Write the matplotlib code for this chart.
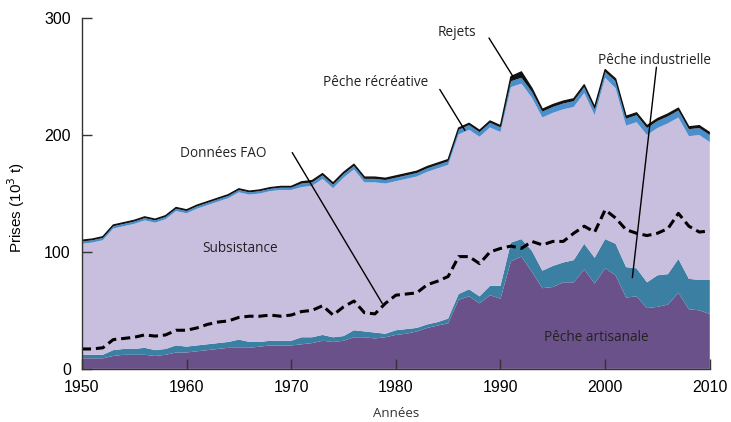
import numpy as np
import matplotlib.pyplot as plt

years = np.arange(1950, 2011)

# valeurs (10^3 t)
artisanale = [9, 9, 9, 11, 12, 12, 12, 11, 12, 14,
              14, 15, 16, 17, 18, 18, 18, 19, 20, 20,
              20, 21, 22, 24, 23, 24, 27, 27, 26, 27,
              29, 30, 32, 35, 37, 39, 59, 62, 56, 63,
              60, 92, 96, 83, 69, 70, 74, 74, 85, 73,
              86, 80, 61, 62, 52, 53, 55, 65, 51, 50,
              47]
artis_indus = [12, 12, 12, 16, 17, 17, 18, 16, 17, 20,
               19, 20, 21, 22, 23, 25, 23, 23, 24, 24,
               24, 27, 27, 29, 27, 28, 33, 32, 31, 30,
               33, 34, 35, 38, 40, 43, 64, 68, 62, 71,
               71, 108, 111, 101, 84, 88, 91, 93, 107, 95,
               111, 107, 87, 86, 74, 80, 81, 94, 77, 76,
               76]
total = [110, 111, 113, 123, 125, 127, 130, 128, 131, 138,
         136, 140, 143, 146, 149, 154, 152, 153, 155, 156,
         156, 160, 161, 167, 159, 168, 175, 164, 164, 163,
         165, 167, 169, 173, 176, 179, 206, 210, 204, 212,
         208, 250, 254, 240, 222, 226, 229, 231, 243, 224,
         256, 248, 216, 219, 208, 214, 218, 223, 207, 208,
         202]
recreative = [2]*21 + [3]*15 + [4]*5 + [5]*10 + [6]*10
rejets = [1]*21 + [1.5]*20 + [4, 5, 3] + [2]*17
fao = [17, 17, 18, 25, 26, 27, 29, 28, 29, 33,
       33, 35, 38, 40, 41, 44, 45, 45, 46, 45,
       46, 49, 50, 54, 46, 53, 58, 48, 47, 56,
       63, 64, 65, 72, 75, 79, 96, 96, 90, 100,
       103, 105, 103, 109, 106, 109, 109, 116, 122, 117,
       136, 129, 119, 116, 114, 116, 120, 133, 122, 117,
       118]

artisanale = np.array(artisanale, float)
industrielle = np.array(artis_indus, float) - artisanale
recreative = np.array(recreative, float)
rejets = np.array(rejets, float)
subsistance = np.array(total, float) - artisanale - industrielle - recreative - rejets

fig = plt.figure(figsize=(7.31, 4.22), dpi=100)
ax = fig.add_axes([0.112, 0.126, 0.859, 0.831])

ax.stackplot(years, artisanale, industrielle, subsistance, recreative, rejets,
             colors=['#6b5189', '#3b7fa2', '#c8bfdf', '#4a8ecb', '#111111'],
             linewidth=0)
ax.plot(years, np.array(total), color='#111111', lw=1.0)
ax.plot(years, fao, color='black', lw=2.2, ls=(0, (3, 1.6)))

ax.set_xlim(1950, 2010)
ax.set_ylim(0, 300)
ax.set_xticks([1950, 1960, 1970, 1980, 1990, 2000, 2010])
ax.set_yticks([0, 100, 200, 300])
for s in ['top', 'right']:
    ax.spines[s].set_visible(False)
for s in ['left', 'bottom']:
    ax.spines[s].set_color('#333333')
    ax.spines[s].set_linewidth(1.0)
ax.tick_params(direction='in', length=7, width=1, colors='#333333',
               labelsize=11.5, labelcolor='black', pad=8)
for lab in ax.get_xticklabels() + ax.get_yticklabels():
    lab.set_family('Liberation Sans')

tf = dict(family='Open Sans', fontsize=9.8, color='#222222')
ax.set_ylabel('Prises (10$^3$ t)', fontsize=11, family='Liberation Sans')
ax.yaxis.set_label_coords(-0.087, 0.46)
ax.set_xlabel('Années', fontsize=9.5, family='Open Sans', color='#333333', labelpad=9)

ax.text(1965.1, 103, 'Subsistance', ha='center', va='center', **tf)
ax.text(1999.2, 26.5, 'Pêche artisanale', ha='center', va='center', **tf)
ax.text(1963.5, 184.5, 'Données FAO', ha='center', va='center', **tf)
ax.text(1978.1, 245, 'Pêche récréative', ha='center', va='center', **tf)
ax.text(1985.8, 288, 'Rejets', ha='center', va='center', **tf)
ax.text(2004.7, 264, 'Pêche industrielle', ha='center', va='center', **tf)

# traits de rappel
leaders = [((1970.1, 185), (1978.7, 56)),
           ((1984.2, 239), (1986.6, 204)),
           ((1988.9, 283), (1991.2, 250)),
           ((2004.9, 258), (2002.6, 78))]
for start, end in leaders:
    ax.annotate('', xy=end, xytext=start,
                arrowprops=dict(arrowstyle='-', color='black', lw=1,
                                shrinkA=0, shrinkB=0))

fig.savefig('out.png', dpi=100)
